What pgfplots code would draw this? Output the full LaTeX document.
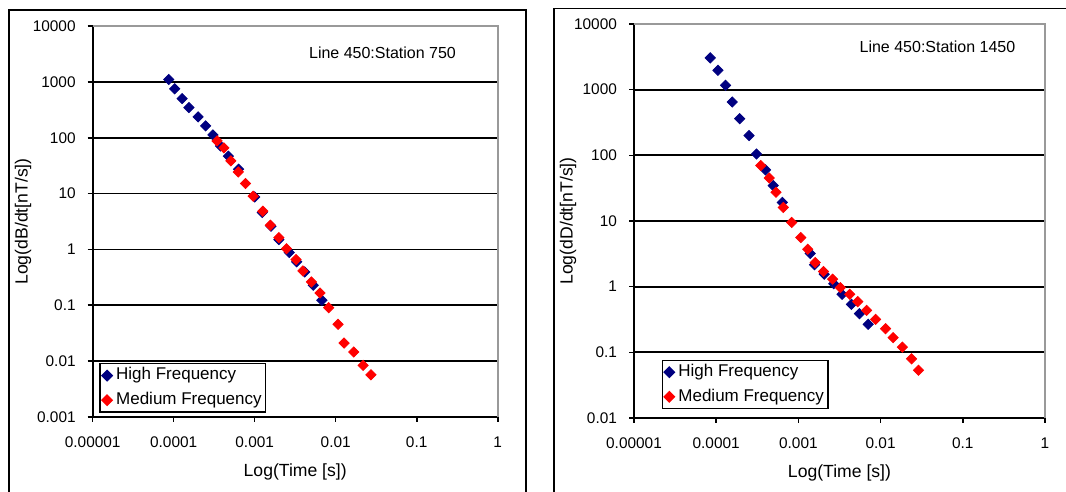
\documentclass[border=0pt]{standalone}
\usepackage{fontspec}
\setmainfont{Liberation Sans}
\usepackage{pgfplots}
\pgfplotsset{compat=1.18}
\definecolor{hfblue}{RGB}{0,0,128}
\definecolor{mfred}{RGB}{255,0,0}

\pgfplotsset{
  tdem/.style={
    scale only axis,
    xmin=1e-5, xmax=1,
    xtick={1e-5,1e-4,1e-3,1e-2,1e-1,1},
    xticklabels={0.00001,0.0001,0.001,0.01,0.1,1},
    xminorticks=false, yminorticks=false,
    axis x line*=bottom, axis y line*=left,
    axis line style={-, black, line width=0.9pt},
    tick align=outside, major tick length=2.5pt,
    tick style={black, line width=0.8pt},
    ymajorgrids,
    major grid style={black, line width=0.85pt},
    ticklabel style={font=\fontsize{7.7}{9}\selectfont},
    xticklabel style={anchor=center, yshift=-10pt},
    yticklabel style={anchor=east, xshift=-2.5pt},
    clip=false,
    legend cell align=left,
    legend image code/.code={\draw[mark repeat=2,mark phase=2,##1] plot coordinates {(0cm,0cm) (0.1cm,0cm) (0.2cm,0cm)};},
    legend style={anchor=south west, draw=black, line width=0.7pt,
      font=\fontsize{8.5}{10}\selectfont, inner xsep=1pt, inner ysep=1pt,
      row sep=2.5pt, column sep=1pt,
      nodes={inner sep=1pt, text height=6pt, text depth=1.8pt}},
  },
  hf/.style={only marks, mark=square*, mark size=1.8pt, color=hfblue, mark options={rotate=45}},
  mf/.style={only marks, mark=square*, mark size=1.8pt, color=mfred, mark options={rotate=45}},
}

\begin{document}
\begin{tikzpicture}
\useasboundingbox (0,0) rectangle (533pt,246pt);
% chart frames
\draw[black, line width=0.9pt] (4.5pt,0) -- (4.5pt,241pt) -- (263pt,241pt) -- (263pt,0);
\draw[black, line width=0.9pt] (277pt,0) -- (277pt,241.75pt) -- (533pt,241.75pt);

\begin{loglogaxis}[tdem,
  at={(46.35pt,37.5pt)}, anchor=south west,
  width=202.5pt, height=195.5pt,
  ymin=1e-3, ymax=1e4,
  ytick={1e-3,1e-2,1e-1,1,10,100,1000,10000},
  yticklabels={0.001,0.01,0.1,1,10,100,1000,10000},
  xlabel={Log(Time [s])},
  ylabel={Log(dB/dt[nT/s])},
  every axis x label/.style={at={(axis description cs:0.5,-0.1407)}, anchor=center, font=\fontsize{8.8}{10.5}\selectfont},
  every axis y label/.style={at={(axis description cs:-0.172,0.5)}, rotate=90, anchor=center, font=\fontsize{8.8}{10.5}\selectfont},
  legend style={at={(0.0163,0.011)}},
]
\draw[black!40, line width=0.9pt] (rel axis cs:0,1) -- (rel axis cs:1,1) -- (rel axis cs:1,0);
\addplot[hf] coordinates {
  (8.7e-5,1100) (1.03e-4,750) (1.27e-4,502) (1.54e-4,347) (2.0e-4,236)
  (2.48e-4,163) (3.05e-4,112) (3.78e-4,71) (4.73e-4,46.7) (6.33e-4,27.3)
  (1.0e-3,8.7) (1.24e-3,4.57) (1.59e-3,2.6) (1.99e-3,1.5) (2.67e-3,0.88)
  (3.3e-3,0.6) (4.14e-3,0.395) (5.28e-3,0.228) (6.75e-3,0.123)
};
\addlegendentry{High Frequency}
\addplot[mf] coordinates {
  (3.43e-4,87.7) (4.17e-4,65.8) (5.07e-4,38.5) (6.28e-4,24.4) (7.7e-4,15.1)
  (9.57e-4,8.96) (1.26e-3,4.83) (1.56e-3,2.71) (1.99e-3,1.63) (2.47e-3,1.03)
  (3.24e-3,0.658) (3.94e-3,0.412) (5.02e-3,0.262) (6.41e-3,0.166) (8.2e-3,0.0908)
  (1.07e-2,0.0457) (1.27e-2,0.0211) (1.67e-2,0.0146) (2.18e-2,0.0084) (2.72e-2,0.0057)
};
\addlegendentry{Medium Frequency}
\node[font=\fontsize{8}{9.6}\selectfont] at (rel axis cs:0.7156,0.9317) {Line 450:Station 750};
\end{loglogaxis}

\begin{loglogaxis}[tdem,
  at={(317pt,37pt)}, anchor=south west,
  width=205.5pt, height=197pt,
  ymin=1e-2, ymax=1e4,
  ytick={1e-2,1e-1,1,10,100,1000,10000},
  yticklabels={0.01,0.1,1,10,100,1000,10000},
  xlabel={Log(Time [s])},
  ylabel={Log(dD/dt[nT/s])},
  every axis x label/.style={at={(axis description cs:0.5,-0.1396)}, anchor=center, font=\fontsize{8.8}{10.5}\selectfont},
  every axis y label/.style={at={(axis description cs:-0.1606,0.5)}, rotate=90, anchor=center, font=\fontsize{8.8}{10.5}\selectfont},
  legend style={at={(0.067,0.022)}},
]
\draw[black!40, line width=0.9pt] (rel axis cs:0,1) -- (rel axis cs:1,1) -- (rel axis cs:1,0);
\addplot[hf] coordinates {
  (8.46e-5,3048) (1.05e-4,1973) (1.3e-4,1164) (1.57e-4,648) (1.93e-4,361)
  (2.51e-4,200) (3.09e-4,105) (3.98e-4,60) (4.94e-4,34.6) (6.37e-4,19.2)
  (1.39e-3,3.2) (1.57e-3,2.15) (2.06e-3,1.55) (2.69e-3,1.11) (3.4e-3,0.766)
  (4.42e-3,0.538) (5.53e-3,0.388) (7.07e-3,0.267)
};
\addlegendentry{High Frequency}
\addplot[mf] coordinates {
  (3.49e-4,69.8) (4.42e-4,45.3) (5.34e-4,27.4) (6.55e-4,16.1) (8.28e-4,9.5)
  (1.07e-3,5.6) (1.3e-3,3.72) (1.6e-3,2.33) (2.02e-3,1.7) (2.61e-3,1.3)
  (3.24e-3,0.968) (4.21e-3,0.766) (5.27e-3,0.592) (6.75e-3,0.436) (8.69e-3,0.318)
  (1.15e-2,0.229) (1.42e-2,0.167) (1.84e-2,0.12) (2.38e-2,0.0796) (2.89e-2,0.0535)
};
\addlegendentry{Medium Frequency}
\node[font=\fontsize{8}{9.6}\selectfont] at (rel axis cs:0.7384,0.9424) {Line 450:Station 1450};
\end{loglogaxis}
\end{tikzpicture}
\end{document}
